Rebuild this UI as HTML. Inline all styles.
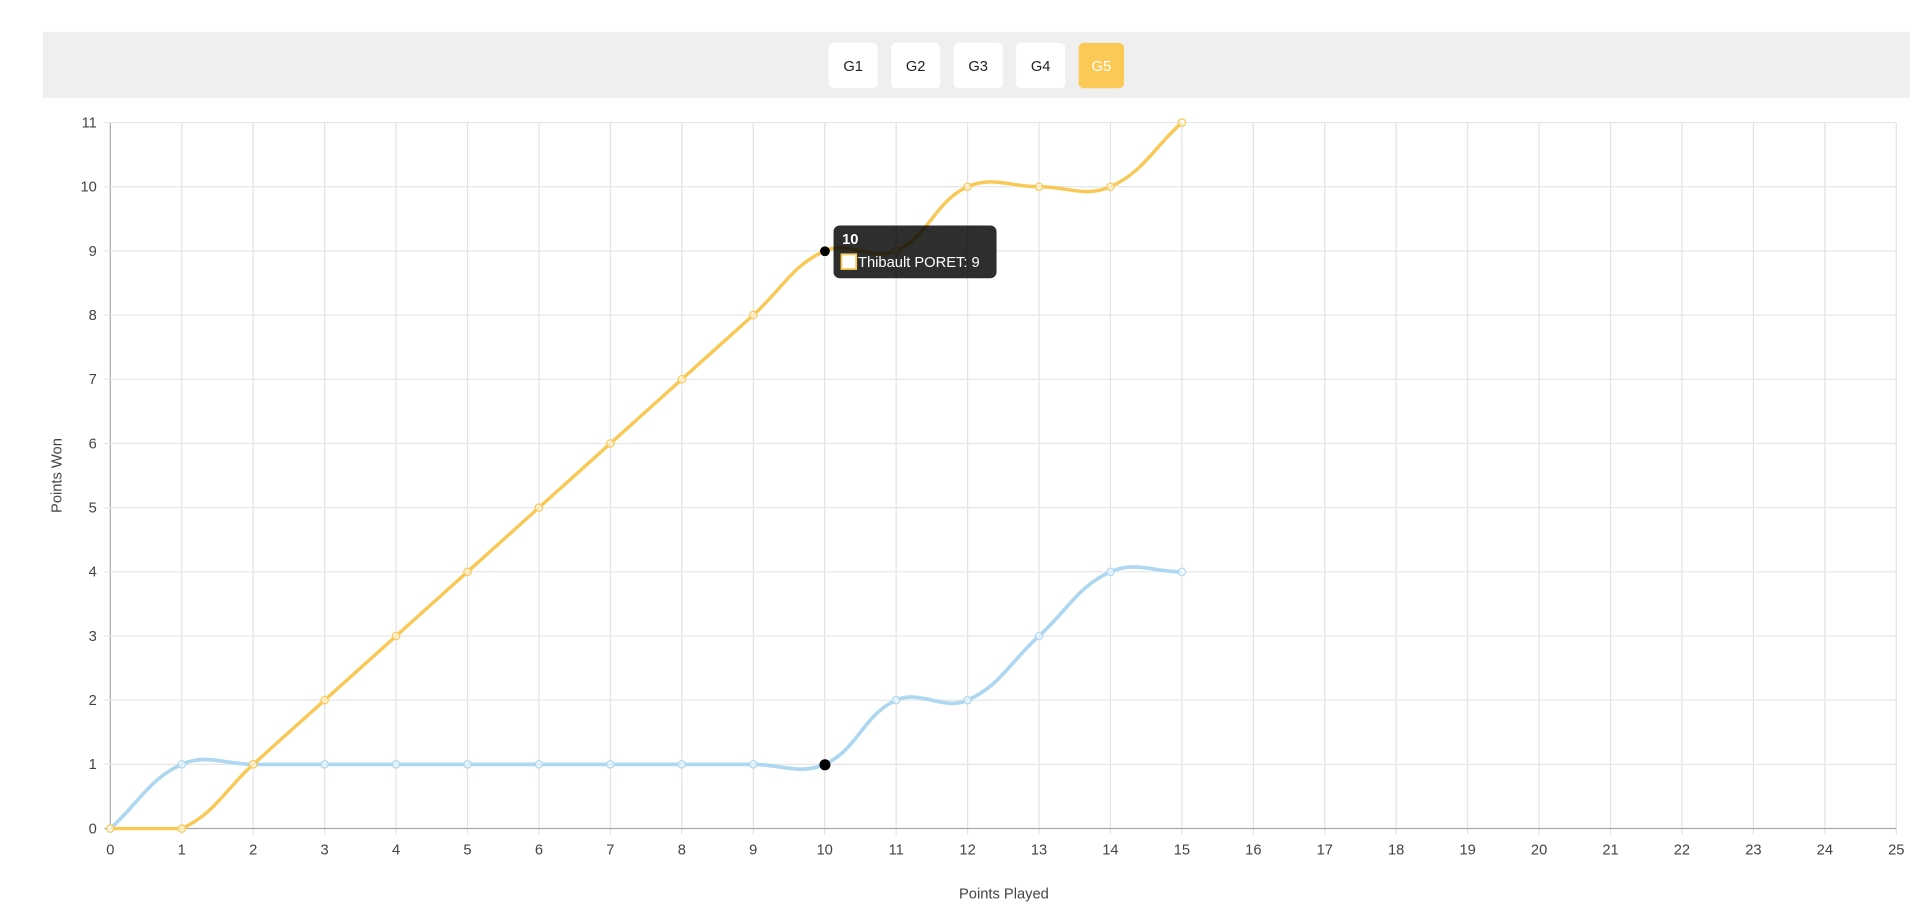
<!DOCTYPE html>
<html><head><meta charset="utf-8"><style>
html,body{margin:0;padding:0;background:#fff;width:1922px;height:918px;overflow:hidden}
svg{display:block}
text{font-family:"Liberation Sans",Arial,sans-serif}
</style></head><body>
<svg id="s" width="1922" height="918" viewBox="0 0 1568 749" preserveAspectRatio="none" xmlns="http://www.w3.org/2000/svg">
<rect x="35" y="26" width="1523" height="54" fill="#efefef"/>
<g font-size="12" text-anchor="middle">
<rect x="676" y="35" width="40" height="37" rx="4" fill="#fff"/><text x="696" y="58" fill="#222">G1</text>
<rect x="727" y="35" width="40" height="37" rx="4" fill="#fff"/><text x="747" y="58" fill="#222">G2</text>
<rect x="778" y="35" width="40" height="37" rx="4" fill="#fff"/><text x="798" y="58" fill="#222">G3</text>
<rect x="829" y="35" width="40" height="37" rx="4" fill="#fff"/><text x="849" y="58" fill="#222">G4</text>
<rect x="880" y="35" width="37" height="37" rx="4" fill="#fbc955"/><text x="898.5" y="58" fill="#fff">G5</text>
</g>
<g id="grid"></g>
<g id="lines"></g>
<circle cx="673" cy="205" r="4" fill="#000"/>
<circle cx="673" cy="624" r="4.5" fill="#000"/>
<rect x="680" y="184" width="133" height="43" rx="5" fill="rgba(0,0,0,0.82)"/>
<text x="687" y="199" fill="#fff" font-size="12" font-weight="bold">10</text>
<rect x="686.5" y="207.5" width="12" height="12" fill="#fff" stroke="#f8c956" stroke-width="1.5"/>
<text x="700" y="218" fill="#fff" font-size="12">Thibault PORET: 9</text>
<text x="819" y="733" font-size="12" text-anchor="middle" fill="#444">Points Played</text>
<text transform="translate(50,388) rotate(-90)" font-size="12" text-anchor="middle" fill="#444">Points Won</text>
</svg>
<script>
function X(v){return 90+v*(1547-90)/25}
function Y(v){return 676-v*(676-100)/11}
function cl(y){return Math.max(100,Math.min(676,y))}
var g=document.getElementById('grid'),h='';
for(var i=0;i<=25;i++){var x=X(i);h+='<line x1="'+x+'" y1="100" x2="'+x+'" y2="'+(i==0?676:681)+'" stroke="'+(i==0?'#aaa':'#e3e3e3')+'" stroke-width="1"/>';
h+='<text x="'+x+'" y="697" font-size="12" text-anchor="middle" fill="#444">'+i+'</text>';}
for(var j=0;j<=11;j++){var y=Y(j);h+='<line x1="85" y1="'+y+'" x2="1547" y2="'+y+'" stroke="'+(j==0?'#aaa':'#e6e6e6')+'" stroke-width="1"/>';
h+='<text x="79" y="'+(y+4)+'" font-size="12" text-anchor="end" fill="#444">'+j+'</text>';}
g.innerHTML=h;
function path(d){var p=d.map(function(v,i){return[X(i),Y(v)]}),t=0.4,c=[];
for(var i=0;i<p.length;i++){var pr=p[i-1]||p[i],cu=p[i],nx=p[i+1]||p[i];
var d01=Math.hypot(cu[0]-pr[0],cu[1]-pr[1]),d12=Math.hypot(nx[0]-cu[0],nx[1]-cu[1]);
var s=d01+d12||1,fa=t*d01/s,fb=t*d12/s;
c.push({p:[cu[0]-fa*(nx[0]-pr[0]),cl(cu[1]-fa*(nx[1]-pr[1]))],n:[cu[0]+fb*(nx[0]-pr[0]),cl(cu[1]+fb*(nx[1]-pr[1]))]});}
var s='M'+p[0];for(var i=1;i<p.length;i++){s+=' C'+c[i-1].n+' '+c[i].p+' '+p[i];}return{s:s,p:p};}
var L=document.getElementById('lines'),o='';
[[[0,1,1,1,1,1,1,1,1,1,1,2,2,3,4,4],'#aed8f2',3],[[0,0,1,2,3,4,5,6,7,8,9,9,10,10,10,11],'#f8c956',2.8]].forEach(function(a){
var r=path(a[0]);o+='<path d="'+r.s+'" fill="none" stroke="'+a[1]+'" stroke-width="'+a[2]+'"/>';
r.p.forEach(function(q){o+='<circle cx="'+q[0]+'" cy="'+q[1]+'" r="3" fill="rgba(255,255,255,0.6)" stroke="'+a[1]+'" stroke-width="1"/>';});});
L.innerHTML=o;
</script>
</body></html>
